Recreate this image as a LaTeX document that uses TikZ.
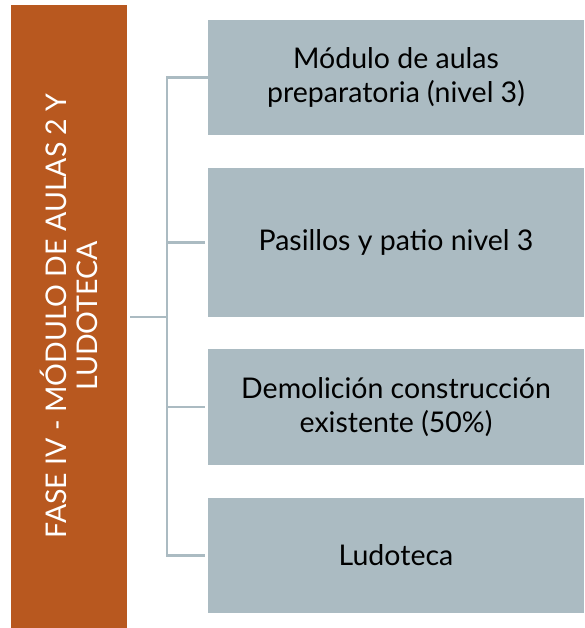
\documentclass[tikz,border=0pt]{standalone}
\usepackage{fontspec}
\setmainfont{Lato}
\definecolor{faseorange}{HTML}{B8581F}
\definecolor{itemgrey}{HTML}{ABBBC2}
\tikzset{
  fasebox/.style={fill=faseorange, text=white, inner sep=0pt, minimum width=116pt, minimum height=623pt, align=center},
  itembox/.style={fill=itemgrey, text=black, inner sep=0pt, minimum width=376pt, align=center, font=\fontsize{28.5}{34}\selectfont},
  tree/.style={draw=itemgrey, line width=2.5pt}
}
\begin{document}
\begin{tikzpicture}[x=1pt, y=-1pt]
\useasboundingbox (0,0) rectangle (584,628);

% phase block
\node[fasebox] (fase) at (69,316.5) {};
\node[rotate=90, text=white, align=center, font=\fontsize{28.5}{31}\selectfont] (fasetxt) at (69,316) {FASE IV - MÓDULO DE AULAS 2 Y\\LUDOTECA};

% items
\node[itembox, minimum height=115pt] (mod) at (396,77.5) {Módulo de aulas\\preparatoria (nivel 3)};
\node[itembox, minimum height=149pt] (pas) at (396,242.5) {Pasillos y patio nivel 3};
\node[itembox, minimum height=116pt] (dem) at (396,407) {Demolición construcción\\existente (50\%)};
\node[itembox, minimum height=115pt] (lud) at (396,555.5) {Ludoteca};

% bracket
\coordinate (top) at (167,77.5);
\coordinate (bot) at (167,555.5);
\coordinate (mid) at (167,317);
\draw[tree] ([xshift=3pt]fase.east |- mid) -- (mid);
\draw[tree] (mod.west) -- ([xshift=-3pt]mod.west) -| (top) -- (bot) -- (lud.west -| 205,0);
\foreach \n in {pas,dem}
  \draw[tree] (\n.west -| 167,0) -- ([xshift=-3pt]\n.west);
\end{tikzpicture}
\end{document}
